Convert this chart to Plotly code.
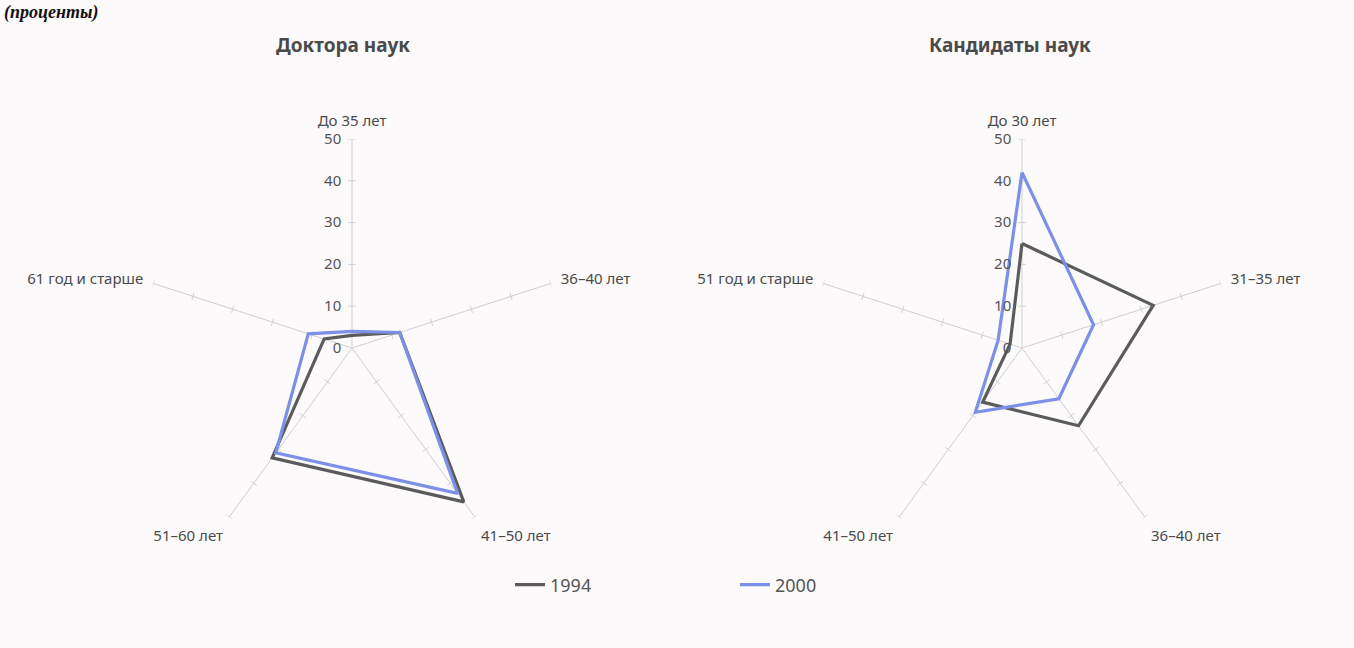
import math
import plotly.graph_objects as go

# ---------------- data ----------------
doc_categories = ["До 35 лет", "36–40 лет", "41–50 лет", "51–60 лет", "61 год и старше"]
doc_1994 = [3, 12, 45.5, 32.5, 7]
doc_2000 = [4, 12, 43, 31, 11]

cand_categories = ["До 30 лет", "31–35 лет", "36–40 лет", "41–50 лет", "51 год и старше"]
cand_1994 = [25, 33, 23, 16, 3]
cand_2000 = [42, 18, 15, 19, 6]

series_names = ["1994", "2000"]
radial_ticks = [0, 10, 20, 30, 40, 50]

# ---------------- style ----------------
COL_1994 = "#5b5b5b"
COL_2000 = "#7d8fe6"
SPOKE = "#cfcfcf"
TEXT = "#4a4a4a"
BG = "#fdfafc"
FONT = "Noto Sans"

n = len(doc_categories)
angles = [i * 360 / n for i in range(n)]


def closed(v):
    return list(v) + [v[0]]


def tick_segments(half=0.9):
    rr, tt = [], []
    for a in angles:
        for r in radial_ticks[1:]:
            d = math.degrees(math.atan(half / r))
            rp = math.sqrt(r * r + half * half)
            rr += [rp, rp, None]
            tt += [a - d, a + d, None]
    return rr, tt


fig = go.Figure()

for polar, cats, s94, s00, show in [
    ("polar", doc_categories, doc_1994, doc_2000, True),
    ("polar2", cand_categories, cand_1994, cand_2000, False),
]:
    tr, tt = tick_segments()
    fig.add_trace(go.Scatterpolar(r=tr, theta=tt, mode="lines",
                                  line=dict(color=SPOKE, width=1),
                                  showlegend=False, hoverinfo="skip", subplot=polar))
    fig.add_trace(go.Scatterpolar(r=closed(s94), theta=closed(angles), mode="lines",
                                  line=dict(color=COL_1994, width=3.2),
                                  name=series_names[0], legendgroup="a",
                                  showlegend=show, subplot=polar))
    fig.add_trace(go.Scatterpolar(r=closed(s00), theta=closed(angles), mode="lines",
                                  line=dict(color=COL_2000, width=3.2),
                                  name=series_names[1], legendgroup="b",
                                  showlegend=show, subplot=polar))

W, H = 1354, 648
R = 209


def dom(cx, cy):
    return dict(x=[(cx - R) / W, (cx + R) / W],
                y=[(H - cy - R) / H, (H - cy + R) / H])


def polar_layout(cx, cy, cats):
    return dict(
        domain=dom(cx, cy),
        bgcolor="rgba(0,0,0,0)",
        angularaxis=dict(
            tickmode="array", tickvals=angles, ticktext=cats,
            rotation=90, direction="clockwise",
            showgrid=True, gridcolor=SPOKE, gridwidth=1,
            showline=False, ticks="outside", ticklen=7, tickcolor="rgba(0,0,0,0)",
            tickfont=dict(family=FONT, size=15, color=TEXT),
        ),
        radialaxis=dict(
            range=[0, 50], tickvals=radial_ticks,
            showgrid=False, showline=False,
            ticks="outside", ticklen=5, tickcolor="rgba(0,0,0,0)",
            angle=90, side="counterclockwise", tickangle=90,
            tickfont=dict(family=FONT, size=15, color="#555555"),
        ),
    )


fig.update_layout(
    width=W, height=H,
    margin=dict(l=0, r=0, t=0, b=0),
    paper_bgcolor=BG, plot_bgcolor=BG,
    polar=polar_layout(352, 348, doc_categories),
    polar2=polar_layout(1022, 348, cand_categories),
    showlegend=True,
    legend=dict(orientation="h", x=510 / W, y=(H - 585) / H, yanchor="middle",
                xanchor="left", entrywidth=180, entrywidthmode="pixels",
                font=dict(family=FONT, size=18, color="#555555"),
                bgcolor="rgba(0,0,0,0)"),
    annotations=[
        dict(text="<b>Доктора наук</b>", x=343 / W, y=1 - 45 / H, xref="paper", yref="paper",
             xanchor="center", yanchor="middle", showarrow=False,
             font=dict(family=FONT, size=19, color=TEXT)),
        dict(text="<b>Кандидаты наук</b>", x=1010 / W, y=1 - 45 / H, xref="paper", yref="paper",
             xanchor="center", yanchor="middle", showarrow=False,
             font=dict(family=FONT, size=19, color=TEXT)),
        dict(text="<b><i>(проценты)</i></b>", x=2 / W, y=1.0, xref="paper", yref="paper",
             xanchor="left", yanchor="top", showarrow=False,
             font=dict(family="Liberation Serif", size=18, color="#111111")),
    ],
)

fig.write_html(
    "out.html",
    config={"displayModeBar": False},
    post_script="document.body.style.margin='0';document.body.style.overflow='hidden';"
                "document.body.style.background='" + BG + "';",
)
